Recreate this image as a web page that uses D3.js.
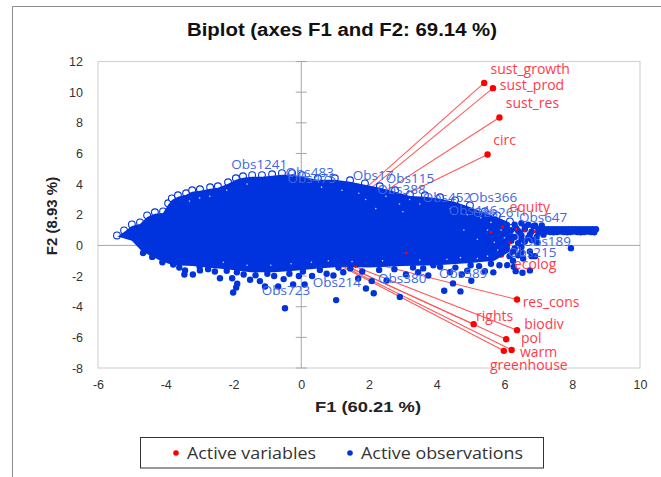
<!DOCTYPE html>
<html>
<head>
<meta charset="utf-8">
<script src="https://cdn.jsdelivr.net/npm/d3@7"></script>
<style>
  html, body { margin: 0; padding: 0; background: #fff; }
  svg { display: block; }
</style>
</head>
<body>
<svg width="661" height="477"></svg>
<script>
// active variables (F1, F2)
var varNames = ['sust_growth', 'sust_prod', 'sust_res', 'circ', 'equity', 'ecolog', 'res_cons', 'biodiv', 'rights', 'pol', 'warm', 'greenhouse'];
var varF1 = [5.40, 5.66, 5.85, 5.50, 5.80, 5.90, 6.37, 6.37, 5.09, 6.05, 6.21, 5.98];
var varF2 = [10.60, 10.26, 8.35, 5.93, 1.20, -0.60, -3.53, -5.53, -5.14, -6.12, -6.82, -6.88];

// red specks that show through the cloud, names not readable
var hiddenF1 = [6.16, 5.95, 6.35, 6.60, 5.60, 6.90, 3.10, 1.60];
var hiddenF2 = [0.13, 1.20, 1.05, 0.95, 0.85, 0.90, -0.50, -1.40];

// outline of the solid part of the observation cloud
var cloudTopF1 = [-5.44, -5.23, -5.00, -4.76, -4.55, -4.32, -4.08, -3.93, -3.82, -3.64, -3.40, -3.22, -2.99, -2.69, -2.46, -2.16, -1.93, -1.72, -1.45, -1.16, -0.86, -0.57, -0.27, 0.02, 0.49, 0.99, 1.44, 1.88, 2.32, 2.77, 3.21, 3.65, 4.10, 4.54, 4.98, 5.42, 5.78, 6.16];
var cloudTopF2 = [0.65, 0.98, 1.37, 1.50, 1.96, 2.16, 2.22, 2.75, 3.07, 3.27, 3.40, 3.60, 3.66, 3.79, 3.86, 4.12, 4.38, 4.51, 4.58, 4.58, 4.64, 4.71, 4.71, 4.58, 4.38, 4.38, 4.25, 4.05, 3.86, 3.60, 3.33, 3.27, 3.14, 2.94, 2.61, 2.22, 1.96, 1.57];
var cloudLowF1 = [-5.44, -5.00, -4.70, -4.20, -3.80, -3.20, -2.80, -2.20, -1.50, -0.80, -0.20, 0.50, 1.20, 2.00, 3.00, 4.00, 5.00, 5.70, 6.16];
var cloudLowF2 = [0.60, 0.30, -0.40, -0.95, -1.30, -1.35, -1.45, -1.55, -1.75, -1.75, -1.65, -1.50, -1.40, -1.45, -1.35, -1.30, -1.15, -1.00, -0.40];

// separate observations around the cloud
var obsF1 = [-0.48, -2.01, -1.89, -1.92, -1.07, -0.68, -0.24, 0.10, -0.52, -0.07, 0.32, -1.22, -1.51, -2.04, -2.40, -3.43, -3.20, -3.45, -2.99, -3.78, -4.67,
  1.03, 1.91, 2.14, 2.91, 4.22, 4.70, 4.48, 5.02, 5.67, 6.08, 6.33, 6.53, 6.75, 7.96, 6.27, 3.09, 3.45, 3.75, 4.39, 4.74, 5.42, 1.24, 1.68, 2.08, 2.52, 0.95,
  7.00, 7.20, 7.40, 7.60, 7.80, 8.00, 8.20, 8.40, 8.60, 8.70, 7.05, 7.25, 7.45, 7.65, 7.85, 8.05, 8.25, 8.45, 8.65,
  7.10, 7.30, 7.50, 7.70, 7.90, 8.10, 8.30, 8.50, 7.15, 7.35, 7.55, 7.75, 7.95, 8.15, 8.35, 8.55,
  6.30, 6.50, 6.70, 6.90, 6.40, 6.60, 6.80, 6.30, 6.50, 6.70, 6.95, 6.40, 6.60, 6.30, 6.50, 6.40, 6.85, 7.10, 6.25, 6.55, 6.75, 6.95, 7.15, 6.35, 6.60, 6.90,
  -4.40, -4.10, -3.60, -3.00, -2.75, -2.55, -2.20, -1.90, -1.70, -1.35, -1.00, -0.80, -0.35, 0.05, 0.55, 0.75, 1.45, 1.80, 2.30, 2.75, 3.30, 3.60, 4.10, 4.55, 5.00, 5.25, 5.60, 5.85, 3.90, 4.90, 1.10,
  6.20, 6.20, 6.20, 6.25, 6.15, 6.45, 6.75, 7.00, 6.50, 6.80, 6.50, 6.80];
var obsF2 = [-4.10, -3.07, -2.50, -2.75, -2.68, -2.68, -2.55, -2.55, -2.20, -2.00, -2.00, -2.33, -2.24, -2.14, -2.14, -1.63, -1.90, -1.90, -1.63, -1.25, -0.50,
  -3.57, -2.81, -3.12, -3.36, -2.96, -3.00, -2.48, -2.31, -1.76, -1.29, -1.68, -1.78, -1.63, -0.18, -1.40, -1.90, -1.75, -1.96, -1.75, -1.90, -1.68, -1.75, -2.16, -2.33, -2.29, -1.96,
  1.05, 1.05, 1.05, 1.05, 1.05, 1.05, 1.05, 1.05, 1.05, 1.05, 0.85, 0.90, 0.85, 0.90, 0.85, 0.90, 0.85, 0.90, 0.85,
  1.05, 1.05, 1.05, 1.05, 1.05, 1.05, 1.05, 1.05, 0.87, 0.87, 0.87, 0.87, 0.87, 0.87, 0.87, 0.87,
  1.35, 1.45, 1.35, 1.30, 0.95, 1.05, 0.90, 0.55, 0.65, 0.50, 0.55, 0.15, 0.25, -0.20, -0.10, -0.65, 1.25, 1.30, -1.00, -0.85, -0.40, 0.20, 0.70, 1.10, 1.20, -0.70,
  -0.75, -1.10, -1.45, -1.40, -1.55, -1.70, -1.65, -1.75, -1.90, -1.95, -1.85, -2.00, -1.85, -1.70, -1.60, -1.85, -1.50, -1.70, -1.60, -1.55, -1.45, -1.50, -1.40, -1.45, -1.30, -1.35, -1.20, -1.30, -1.30, -1.65, -1.45,
  1.00, 0.60, 0.30, -0.40, -0.70, 0.85, 0.70, 0.85, 0.40, 0.35, -0.45, -0.70];

// pale gaps left between the dense points
var gapF1 = [2.9, 3.2, 3.5, 2.5, 1.7, 1.9, 1.2, 0.6, 2.2, 3.0, 4.4, 4.9, 5.3, 5.6, 5.9, 6.0, 5.7, 5.8, -3.0, -2.7, -3.3, -2.2, -1.6, -2.3, -1.6, -0.9, -0.3, 0.3, 0.8, 1.5, 2.4, 3.5, 4.3, 4.7, 5.2, 5.5, 5.2, 4.8, 5.5];
var gapF2 = [2.7, 3.0, 2.7, 3.2, 3.4, 3.0, 3.6, 3.8, 2.4, 2.2, 2.4, 2.0, 1.8, 1.5, 1.0, 0.5, 0.2, -0.3, 3.1, 3.2, 2.9, 3.6, 4.0, -1.1, -1.3, -1.3, -1.2, -1.1, -1.0, -1.05, -1.0, -0.95, -0.9, -0.8, -0.85, -0.7, 0.4, 1.0, 1.0];

// observation labels that can be read
var obsLabels = ['Obs1241', 'Obs483', 'Obs475', 'Obs17', 'Obs115', 'Obs388', 'Obs366', 'Obs452', 'Obs446', 'Obs261', 'Obs647', 'Obs723', 'Obs214', 'Obs380', 'Obs589', 'Obs215', 'Obs189'];
var obsLabelF1 = [-1.24, 0.25, 0.31, 2.12, 3.21, 2.96, 5.66, 4.30, 5.07, 5.78, 7.14, -0.45, 1.05, 2.98, 4.78, 6.82, 7.25];
var obsLabelF2 = [5.29, 4.77, 4.37, 4.57, 4.37, 3.66, 3.14, 3.14, 2.29, 2.16, 1.83, -2.94, -2.42, -2.16, -1.83, -0.46, 0.26];

var xTicks = [-6, -4, -2, 0, 2, 4, 6, 8, 10];
var yTicks = [-8, -6, -4, -2, 0, 2, 4, 6, 8, 10, 12];

var left = 98, right = 640, top_ = 61.5, bottom = 368;
var blue = '#0033dd', red = '#ff0000', labelBlue = '#3f66e4', labelRed = '#ff3b4b', axisGrey = '#a6a6a6', frameGrey = '#d4d4d4';
var labelFont = '"Open Sans", sans-serif', headFont = '"Liberation Sans", Arial, sans-serif';

// label offsets from each variable point, in pixels
var varLabelOffset = {
  sust_growth: [46, -14], sust_prod: [39, -3], sust_res: [33, -14], circ: [17, -14],
  equity: [32, -20], ecolog: [34, 10], res_cons: [34, 3], biodiv: [27, -6],
  rights: [21, -8], pol: [25, -1], warm: [27, 2], greenhouse: [25, 14]
};

var svg = d3.select('svg');

var x = d3.scaleLinear().domain([-6, 10]).range([left, right]);
var y = d3.scaleLinear().domain([-8, 12]).range([bottom, top_]);

// outer picture frame, only left and top show
svg.append('path')
  .attr('d', 'M12.5,477V6.5H661')
  .attr('fill', 'none')
  .attr('stroke', '#8c8c8c')
  .attr('stroke-width', 1);

svg.append('rect')
  .attr('x', left).attr('y', top_)
  .attr('width', right - left).attr('height', bottom - top_)
  .attr('fill', '#fff')
  .attr('stroke', frameGrey)
  .attr('stroke-width', 1.2);

// tick labels, plain hyphen for the minus like the original
var xAxis = svg.append('g')
  .attr('transform', 'translate(0,' + bottom + ')')
  .call(d3.axisBottom(x).tickValues(xTicks).tickSize(0).tickPadding(12).tickFormat(String));
var yAxis = svg.append('g')
  .attr('transform', 'translate(' + left + ',0)')
  .call(d3.axisLeft(y).tickValues(yTicks).tickSize(0).tickPadding(15).tickFormat(String));
[xAxis, yAxis].forEach(function(a) {
  a.select('.domain').remove();
  a.selectAll('text')
    .style('font-family', headFont)
    .style('font-size', '12.5px')
    .style('fill', '#333');
});

// zero lines and the ticks on the vertical one
svg.append('line')
  .attr('x1', left).attr('x2', right)
  .attr('y1', y(0)).attr('y2', y(0))
  .attr('stroke', axisGrey);
svg.append('line')
  .attr('x1', x(0)).attr('x2', x(0))
  .attr('y1', top_).attr('y2', bottom)
  .attr('stroke', axisGrey);
svg.append('g').selectAll('line')
  .data(yTicks)
  .enter().append('line')
  .attr('x1', x(0) - 5.5).attr('x2', x(0) + 5.5)
  .attr('y1', function(d) { return y(d); })
  .attr('y2', function(d) { return y(d); })
  .attr('stroke', axisGrey);

// variable vectors
svg.append('g').selectAll('line')
  .data(varNames)
  .enter().append('line')
  .attr('x1', x(0)).attr('y1', y(0))
  .attr('x2', function(d, i) { return x(varF1[i]); })
  .attr('y2', function(d, i) { return y(varF2[i]); })
  .attr('stroke', '#ff5a5a')
  .attr('stroke-width', 1.1);
svg.append('g').selectAll('circle')
  .data(varNames)
  .enter().append('circle')
  .attr('cx', function(d, i) { return x(varF1[i]); })
  .attr('cy', function(d, i) { return y(varF2[i]); })
  .attr('r', 3.2)
  .attr('fill', red);

// open circles along the upper edge of the cloud
svg.append('g').selectAll('circle')
  .data(cloudTopF1)
  .enter().append('circle')
  .attr('cx', function(d) { return x(d); })
  .attr('cy', function(d, i) { return y(cloudTopF2[i]); })
  .attr('r', 3.4)
  .attr('fill', '#fff')
  .attr('stroke', blue)
  .attr('stroke-width', 1.1);

// solid part of the cloud
var cloudShape = cloudTopF1.map(function(d, i) { return [d, cloudTopF2[i] - 0.1]; })
  .concat(cloudLowF1.map(function(d, i) { return [d, cloudLowF2[i]]; }).reverse());
svg.append('path')
  .attr('d', d3.line().x(function(d) { return x(d[0]); }).y(function(d) { return y(d[1]); })(cloudShape) + 'Z')
  .attr('fill', blue);

svg.append('g').selectAll('circle')
  .data(obsF1)
  .enter().append('circle')
  .attr('cx', function(d) { return x(d); })
  .attr('cy', function(d, i) { return y(obsF2[i]); })
  .attr('r', 3.2)
  .attr('fill', blue);

svg.append('g').selectAll('circle')
  .data(gapF1)
  .enter().append('circle')
  .attr('cx', function(d) { return x(d); })
  .attr('cy', function(d, i) { return y(gapF2[i]); })
  .attr('r', 0.8)
  .attr('fill', '#c8d3fa');

svg.append('g').selectAll('circle')
  .data(hiddenF1)
  .enter().append('circle')
  .attr('cx', function(d) { return x(d); })
  .attr('cy', function(d, i) { return y(hiddenF2[i]); })
  .attr('r', 1.4)
  .attr('fill', red);

// observation labels
svg.append('g').selectAll('text')
  .data(obsLabels)
  .enter().append('text')
  .attr('x', function(d, i) { return x(obsLabelF1[i]); })
  .attr('y', function(d, i) { return y(obsLabelF2[i]); })
  .attr('dy', '0.35em')
  .attr('text-anchor', 'middle')
  .style('font-family', labelFont)
  .style('font-size', '13.5px')
  .style('fill', labelBlue)
  .text(function(d) { return d; });

// variable labels
svg.append('g').selectAll('text')
  .data(varNames)
  .enter().append('text')
  .attr('x', function(d, i) { return x(varF1[i]) + varLabelOffset[d][0]; })
  .attr('y', function(d, i) { return y(varF2[i]) + varLabelOffset[d][1]; })
  .attr('dy', '0.35em')
  .attr('text-anchor', 'middle')
  .style('font-family', labelFont)
  .style('font-size', '14px')
  .style('fill', labelRed)
  .text(function(d) { return d; });

// titles, the original is stretched sideways so the widths are forced
svg.append('text')
  .attr('x', 342).attr('y', 36)
  .attr('text-anchor', 'middle')
  .attr('textLength', 310)
  .attr('lengthAdjust', 'spacingAndGlyphs')
  .style('font-family', headFont)
  .style('font-weight', 'bold')
  .style('font-size', '18px')
  .style('fill', '#111')
  .text('Biplot (axes F1 and F2: 69.14 %)');
svg.append('text')
  .attr('x', 368).attr('y', 412)
  .attr('text-anchor', 'middle')
  .attr('textLength', 106)
  .attr('lengthAdjust', 'spacingAndGlyphs')
  .style('font-family', headFont)
  .style('font-weight', 'bold')
  .style('font-size', '15px')
  .style('fill', '#222')
  .text('F1 (60.21 %)');
svg.append('text')
  .attr('transform', 'translate(57,216) rotate(-90)')
  .attr('text-anchor', 'middle')
  .style('font-family', headFont)
  .style('font-weight', 'bold')
  .style('font-size', '15px')
  .style('fill', '#222')
  .text('F2 (8.93 %)');

// legend
svg.append('rect')
  .attr('x', 140.5).attr('y', 437.5)
  .attr('width', 403).attr('height', 30.5)
  .attr('fill', '#fff')
  .attr('stroke', '#333')
  .attr('stroke-width', 1);
var legendItems = [
  {label: 'Active variables', color: red, dot: 176, text: 187, len: 129},
  {label: 'Active observations', color: blue, dot: 350, text: 361, len: 162}
];
var legend = svg.append('g').selectAll('g')
  .data(legendItems)
  .enter().append('g');
legend.append('circle')
  .attr('cx', function(d) { return d.dot; })
  .attr('cy', 453)
  .attr('r', 2.8)
  .attr('fill', function(d) { return d.color; });
legend.append('text')
  .attr('x', function(d) { return d.text; })
  .attr('y', 453)
  .attr('dy', '0.35em')
  .attr('textLength', function(d) { return d.len; })
  .attr('lengthAdjust', 'spacingAndGlyphs')
  .style('font-family', labelFont)
  .style('font-size', '16px')
  .style('fill', '#333')
  .text(function(d) { return d.label; });
</script>
</body>
</html>
